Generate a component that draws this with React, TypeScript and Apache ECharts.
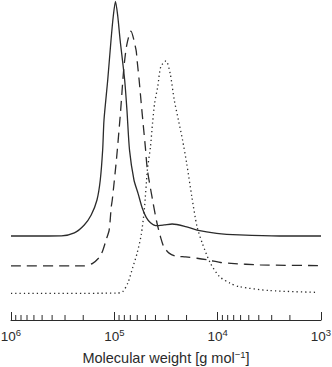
import React, { useEffect, useRef } from "react";
import * as echarts from "echarts";

// log10 of molecular weight (g/mol) and detector response (arbitrary, offset traces)
const solidLogMW = [6.0, 5.7, 5.512, 5.387, 5.291, 5.224, 5.168, 5.136, 5.113, 5.1, 5.064, 5.032, 5.01, 4.989, 4.967, 4.944, 4.9, 4.878, 4.853, 4.81, 4.77, 4.73, 4.69, 4.65, 4.6, 4.52, 4.44, 4.31, 4.2, 4.01, 3.79, 3.4, 3.0];
const solidSignal = [26.25, 26.25, 26.3, 27.2, 29.7, 32.8, 37.5, 43.75, 53.1, 62.5, 75, 87.5, 95, 99.6, 95, 87.5, 75, 65.6, 53.1, 43.75, 39.5, 35, 32, 30.4, 29.5, 29.7, 30, 29.2, 28.1, 27.1, 26.6, 26.25, 26.25];

const dashedLogMW = [6.0, 5.29, 5.21, 5.14, 5.11, 5.08, 5.05, 5.03, 5.02, 4.98, 4.94, 4.91, 4.88, 4.84, 4.79, 4.78, 4.76, 4.74, 4.72, 4.7, 4.68, 4.63, 4.59, 4.55, 4.52, 4.47, 4.41, 4.31, 4.2, 4.09, 3.96, 3.87, 3.59, 3.0];
const dashedSignal = [16.9, 16.9, 17.7, 19.8, 21.9, 25, 28.1, 35.3, 37.5, 50, 65, 78, 85.9, 90.3, 84.4, 81.25, 75, 67.8, 60.9, 54.1, 46.9, 37.5, 30.7, 25.6, 22.8, 20.9, 20, 19.7, 19.3, 18.75, 17.9, 17.7, 17.2, 17.0];

const dottedLogMW = [6.0, 4.98, 4.92, 4.87, 4.82, 4.78, 4.74, 4.71, 4.68, 4.65, 4.63, 4.61, 4.58, 4.55, 4.5, 4.46, 4.42, 4.38, 4.34, 4.3, 4.25, 4.2, 4.15, 4.07, 3.98, 3.88, 3.79, 3.5, 3.05];
const dottedSignal = [8.3, 8.4, 8.8, 11.5, 16.6, 20.8, 26.6, 34.4, 46.9, 54.2, 61.6, 67.8, 72.9, 79.2, 81, 77.1, 68.75, 62.5, 56.25, 49, 38.5, 29.2, 24.1, 17.7, 13.5, 11.5, 10.4, 9.2, 8.65];

const axisMin = 1e3;
const axisMax = 1e6;
const minorMultipliers = [2, 3, 4, 5, 6, 7, 8, 9];
const minorDecades = [1e3, 1e4, 1e5];
const axisTitle = "Molecular weight [g mol{sup|\u22121}]";

const toPairs = (lx: number[], ys: number[]) => lx.map((l, i) => [Math.pow(10, l), ys[i]]);

export default function App() {
  const ref = useRef<HTMLDivElement>(null);
  useEffect(() => {
    if (!ref.current) return;
    const chart = echarts.init(ref.current, undefined, { renderer: "svg" });
    const ink = "#2b2b2b";
    const font = "Liberation Sans, Arial, sans-serif";
    const minorTicks: number[][] = [];
    minorDecades.forEach((d) => minorMultipliers.forEach((m) => minorTicks.push([d * m, 0])));
    const lineCommon = {
      type: "line" as const,
      showSymbol: false,
      smooth: 0.25,
      silent: true,
    };
    chart.setOption({
      animation: false,
      textStyle: { fontFamily: font },
      grid: { left: 11, right: 11, top: 0, bottom: 47, outerBoundsMode: "none", containLabel: false },
      xAxis: {
        type: "log",
        logBase: 10,
        min: axisMin,
        max: axisMax,
        inverse: true,
        splitLine: { show: false },
        axisLine: { show: true, lineStyle: { color: ink, width: 1 } },
        axisTick: { show: true, inside: true, length: 8, lineStyle: { color: ink, width: 1 } },
        axisLabel: {
          margin: 7,
          formatter: (v: number) => `{b|10}{s|${Math.round(Math.log10(v))}}`,
          rich: {
            b: { fontSize: 13.5, color: ink, fontFamily: font },
            s: { fontSize: 9.5, color: ink, padding: [0, 0, 8, 0], fontFamily: font },
          },
        },
        name: axisTitle,
        nameLocation: "middle",
        nameGap: 30,
        nameTextStyle: {
          fontSize: 14.5,
          lineHeight: 15,
          color: ink,
          fontFamily: font,
          rich: {
            sup: { fontSize: 9.5, lineHeight: 15, color: ink, padding: [0, 0, 7, 0], fontFamily: font },
          },
        },
      },
      yAxis: { type: "value", min: 0, max: 100, show: false },
      series: [
        {
          ...lineCommon,
          data: toPairs(solidLogMW, solidSignal),
          lineStyle: { color: ink, width: 1.3, type: "solid" },
        },
        {
          ...lineCommon,
          data: toPairs(dashedLogMW, dashedSignal),
          lineStyle: { color: ink, width: 1.3, type: [10, 6] },
        },
        {
          ...lineCommon,
          data: toPairs(dottedLogMW, dottedSignal),
          lineStyle: { color: ink, width: 1.3, type: [1.3, 3] },
        },
        {
          type: "custom",
          silent: true,
          data: minorTicks,
          renderItem: (_params: any, api: any) => {
            const p = api.coord([api.value(0), 0]);
            return {
              type: "line",
              shape: { x1: p[0], y1: p[1], x2: p[0], y2: p[1] - 5 },
              style: { stroke: ink, lineWidth: 1 },
            };
          },
        },
      ],
    });
    return () => chart.dispose();
  }, []);
  return (
    <div
      ref={ref}
      style={{ position: "fixed", left: 0, top: 0, width: 332, height: 367, background: "#fff" }}
    />
  );
}
